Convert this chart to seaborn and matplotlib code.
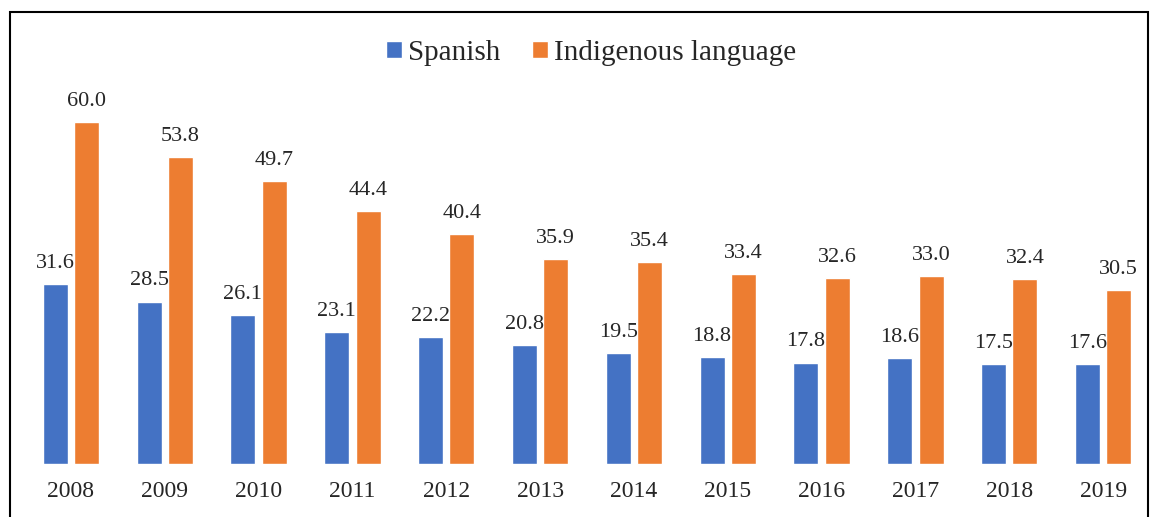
import numpy as np
import pandas as pd
import matplotlib
matplotlib.use('Agg')
import matplotlib.pyplot as plt
from matplotlib.patches import Rectangle
import seaborn as sns

years = ['2008', '2009', '2010', '2011', '2012', '2013',
         '2014', '2015', '2016', '2017', '2018', '2019']
spanish = [31.6, 28.5, 26.1, 23.1, 22.2, 20.8, 19.5, 18.8, 17.8, 18.6, 17.5, 17.6]
indigenous = [60.0, 53.8, 49.7, 44.4, 40.4, 35.9, 35.4, 33.4, 32.6, 33.0, 32.4, 30.5]
series_names = ['Spanish', 'Indigenous language']
colors = ['#4472C4', '#ED7D31']

df = pd.DataFrame({
    'year': years * 2,
    'value': spanish + indigenous,
    'language': [series_names[0]] * len(years) + [series_names[1]] * len(years),
})

sns.set_style('white')
plt.rcParams['font.family'] = ['Liberation Serif', 'DejaVu Serif']

W, H = 1151, 517
fig = plt.figure(figsize=(W / 100, H / 100), dpi=100)
# axes placed in pixel terms: left 24, width 1126, baseline at y=464
ax = fig.add_axes([24 / W, 53 / H, 1126 / W, 399 / H])

sns.barplot(data=df, x='year', y='value', hue='language', palette=colors,
            width=0.667, gap=0.2, saturation=1, ax=ax, legend=True)

for cont in ax.containers:
    ax.bar_label(cont, fmt='%.1f', padding=8, fontsize=16)

ax.set_ylim(0, 70)
ax.set_xlim(-0.5, 11.5)
ax.set_xlabel('')
ax.set_ylabel('')
ax.set_yticks([])
ax.tick_params(axis='x', length=0, pad=12, labelsize=17)
for s in ax.spines.values():
    s.set_visible(False)

handles, labels = ax.get_legend_handles_labels()
ax.get_legend().remove()
fig.legend(handles, labels, loc='center', bbox_to_anchor=(591 / W, 1 - 53 / H),
           ncol=2, frameon=False, fontsize=21, handlelength=0.55, handleheight=0.55,
           handletextpad=0.2, columnspacing=1.1)

# outer frame, open at the bottom edge
fig.patches.append(Rectangle((10 / W, -0.05), 1138 / W, 1.05 - 12 / H,
                             transform=fig.transFigure, fill=False,
                             edgecolor='black', linewidth=1.5))

fig.savefig('out.png', dpi=100)
